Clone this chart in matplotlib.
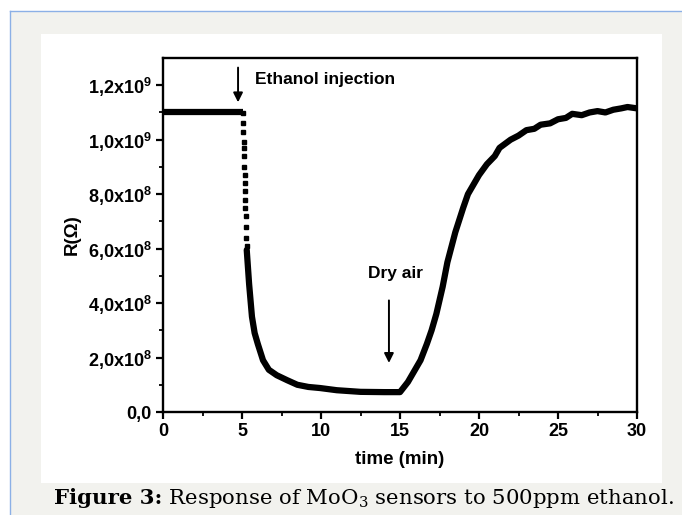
import matplotlib.pyplot as plt
from matplotlib.patches import Rectangle
from matplotlib.lines import Line2D

plt.rcParams['font.family'] = ['Liberation Sans', 'DejaVu Sans']
plt.rcParams['mathtext.fontset'] = 'custom'
plt.rcParams['mathtext.rm'] = 'Liberation Sans:bold'
plt.rcParams['mathtext.it'] = 'Liberation Sans:bold'
plt.rcParams['mathtext.bf'] = 'Liberation Sans:bold'

# data (R in units of 1e9 ohm)
t_base = [0.0, 5.05]
r_base = [1.10, 1.10]

# sparse points during the fast drop right after injection
t_drop = [5.05, 5.07, 5.08, 5.10, 5.11, 5.13, 5.14, 5.16, 5.17, 5.19, 5.20, 5.22, 5.24, 5.26, 5.28, 5.30]
r_drop = [1.097, 1.06, 1.03, 0.99, 0.97, 0.94, 0.90, 0.87, 0.84, 0.81, 0.78, 0.75, 0.72, 0.68, 0.64, 0.61]

# continuous part of the response / recovery
t_curve = [5.3, 5.45, 5.63, 5.8, 6.0, 6.33, 6.7, 7.2, 7.85, 8.5, 9.2, 9.94, 11.0, 12.5, 14.0, 15.0,
           15.5, 16.0, 16.3, 16.7, 17.0, 17.3, 17.7, 18.0, 18.5, 19.0, 19.3, 19.6, 20.0, 20.5,
           21.0, 21.3, 22.0, 22.5, 23.0, 23.5, 23.9, 24.5, 25.0, 25.5, 25.9, 26.5, 27.0, 27.5,
           28.0, 28.5, 29.0, 29.4, 30.0]
r_curve = [0.595, 0.47, 0.35, 0.29, 0.25, 0.19, 0.155, 0.135, 0.117, 0.10, 0.092, 0.088, 0.08, 0.074, 0.073, 0.073,
           0.11, 0.16, 0.19, 0.25, 0.30, 0.36, 0.46, 0.55, 0.66, 0.75, 0.80, 0.83, 0.87, 0.91,
           0.94, 0.97, 1.0, 1.015, 1.035, 1.04, 1.055, 1.06, 1.075, 1.08, 1.095, 1.09, 1.10, 1.105,
           1.10, 1.11, 1.115, 1.12, 1.115]

xticks = [0, 5, 10, 15, 20, 25, 30]
yticks = [0.0, 0.2, 0.4, 0.6, 0.8, 1.0, 1.2]
ylabels = ['0,0', '2,0x10$^8$', '4,0x10$^8$', '6,0x10$^8$', '8,0x10$^8$', '1,0x10$^9$', '1,2x10$^9$']

W, H = 682, 515
fig = plt.figure(figsize=(W / 100, H / 100), dpi=100)
fig.patch.set_facecolor('white')

# page background, border and white panel (pixel coords -> figure fractions)
fig.patches.append(Rectangle((10 / W, 0), 1, 1 - 11 / H, transform=fig.transFigure,
                             facecolor='#f2f2ee', edgecolor='none', zorder=-3))
fig.lines.append(Line2D([10 / W, 1], [1 - 11 / H, 1 - 11 / H], transform=fig.transFigure,
                        color='#8cb0e6', lw=1, zorder=-2))
fig.lines.append(Line2D([10 / W, 10 / W], [0, 1 - 11 / H], transform=fig.transFigure,
                        color='#8cb0e6', lw=1, zorder=-2))
fig.patches.append(Rectangle((41 / W, 1 - 483 / H), (662 - 41) / W, (483 - 34) / H, transform=fig.transFigure,
                             facecolor='white', edgecolor='none', zorder=-1))

ax = fig.add_axes([163 / W, 1 - 412 / H, (637 - 163) / W, (412 - 58) / H])
ax.set_facecolor('white')

ax.plot(t_base, r_base, color='black', lw=4.5, solid_capstyle='butt')
ax.plot(t_drop, r_drop, 's', color='black', ms=3.5, mec='black')
ax.plot(t_curve, r_curve, color='black', lw=4.5, solid_capstyle='round', solid_joinstyle='round')

ax.set_xlim(0, 30)
ax.set_ylim(0, 1.3)
ax.set_xticks(xticks)
ax.set_xticks([2.5, 7.5, 12.5, 17.5, 22.5, 27.5], minor=True)
ax.set_yticks(yticks)
ax.set_yticks([0.1, 0.3, 0.5, 0.7, 0.9, 1.1], minor=True)
ax.set_yticklabels(ylabels)
ax.tick_params(which='major', direction='out', length=5, width=1.6, labelsize=13, pad=3)
ax.tick_params(which='minor', direction='out', length=3, width=1.3)
for lab in ax.get_xticklabels() + ax.get_yticklabels():
    lab.set_fontweight('bold')
for sp in ax.spines.values():
    sp.set_linewidth(1.7)

ax.set_xlabel('time (min)', fontsize=13.5, fontweight='bold', labelpad=8)
ax.set_ylabel('R(Ω)', fontsize=13.5, fontweight='bold', labelpad=5)

# annotations
ax.annotate('', xy=(4.75, 1.127), xytext=(4.75, 1.275),
            arrowprops=dict(arrowstyle='-|>', color='black', lw=1.4, mutation_scale=14))
ax.text(5.85, 1.222, 'Ethanol injection', fontsize=12.5, fontweight='bold', va='center', ha='left')
ax.annotate('', xy=(14.3, 0.17), xytext=(14.3, 0.42),
            arrowprops=dict(arrowstyle='-|>', color='black', lw=1.4, mutation_scale=14))
ax.text(14.7, 0.51, 'Dry air', fontsize=12.5, fontweight='bold', va='center', ha='center')

# caption: bold part, then the rest placed right after it on the same baseline
cap_y = 1 - 504 / H
cap1 = fig.text(54 / W, cap_y, 'Figure 3:', fontsize=15.3, fontweight='bold',
                family='DejaVu Serif', va='baseline', ha='left')
ax.annotate(' Response of MoO$_3$ sensors to 500ppm ethanol.', xy=(1, cap_y), xycoords=(cap1, 'figure fraction'),
            fontsize=15.3, family='DejaVu Serif', math_fontfamily='dejavuserif',
            va='baseline', ha='left', annotation_clip=False)

fig.savefig('out.png', dpi=100, facecolor=fig.get_facecolor())
